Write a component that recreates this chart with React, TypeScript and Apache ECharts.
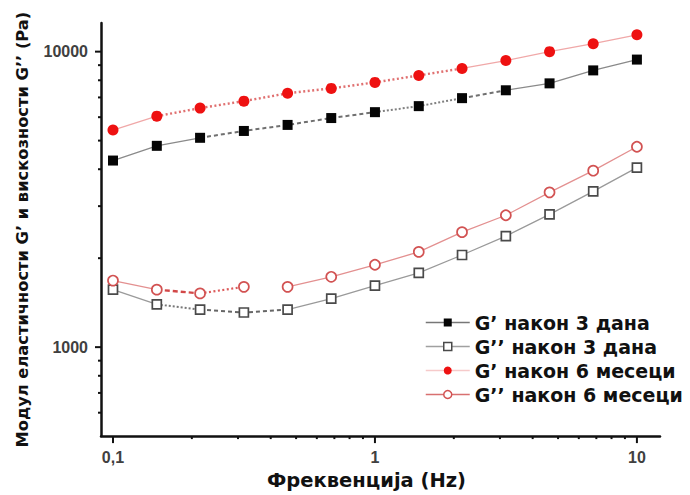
import React, { useEffect, useRef } from "react";
import * as echarts from "echarts";

// Frequency sweep points (Hz), five per decade
const freqHz = [0.1, 0.147, 0.215, 0.316, 0.464, 0.681, 1, 1.47, 2.15, 3.16, 4.64, 6.81, 10];

// Storage modulus G' and loss modulus G'' (Pa)
const gPrime3d = [4280, 4800, 5110, 5390, 5650, 5960, 6240, 6540, 6960, 7400, 7810, 8640, 9400];
const gDouble3d = [1565, 1395, 1340, 1310, 1340, 1460, 1615, 1785, 2050, 2375, 2815, 3365, 4050];
const gPrime6m = [5430, 6050, 6440, 6800, 7230, 7510, 7870, 8310, 8770, 9330, 10000, 10640, 11400];
const gDouble6m = [1680, 1565, 1520, 1600, 1600, 1730, 1900, 2100, 2450, 2795, 3340, 3955, 4765];

const seriesNames = [
  "G’ након 3 дана",
  "G’’ након 3 дана",
  "G’ након 6 месеци",
  "G’’ након 6 месеци",
];

// Connector style of each segment between neighbouring points:
// s = solid, d = dashed, o = dotted, "" = not connected
const segPrime3d = ["s", "s", "d", "d", "d", "d", "o", "o", "d", "s", "s", "s"];
const segDouble3d = ["s", "o", "d", "d", "s", "s", "s", "s", "s", "s", "s", "s"];
const segPrime6m = ["s", "o", "o", "o", "o", "o", "o", "o", "s", "s", "s", "s"];
const segDouble6m = ["s", "d", "o", "", "s", "s", "s", "s", "s", "s", "s", "s"];

// Axis ranges and tick values
const xRange = [0.09, 12.25];
const yRange = [500, 12500];
const xMajorTicks = [0.1, 1, 10];
const xMinorTicks = [0.2, 0.3, 0.4, 0.5, 0.6, 0.7, 0.8, 0.9, 2, 3, 4, 5, 6, 7, 8, 9];
const yMajorTicks = [1000, 10000];
const yMinorTicks = [600, 700, 800, 900, 2000, 3000, 4000, 5000, 6000, 7000, 8000, 9000];

const FONT = "'Liberation Sans', Arial, Helvetica, sans-serif";
const WIDE_FONT = "'DejaVu Sans', Verdana, sans-serif";

type SegStyle = { color: string; width: number; dash: number[] | "solid" };

function pairs(ys: number[]) {
  return freqHz.map((x, i) => [x, ys[i]]);
}

// Split a curve into runs of equally styled segments, one line series each
function segmentSeries(ys: number[], segs: string[], styles: Record<string, SegStyle>) {
  const out: any[] = [];
  let i = 0;
  while (i < segs.length) {
    const kind = segs[i];
    let j = i;
    while (j + 1 < segs.length && segs[j + 1] === kind) j++;
    if (kind && styles[kind]) {
      const st = styles[kind];
      const data = [];
      for (let k = i; k <= j + 1; k++) data.push([freqHz[k], ys[k]]);
      out.push({
        type: "line",
        data,
        silent: true,
        symbol: "none",
        z: 2,
        lineStyle: { color: st.color, width: st.width, type: st.dash },
        emphasis: { disabled: true },
      });
    }
    i = j + 1;
  }
  return out;
}

export default function App() {
  const ref = useRef<HTMLDivElement>(null);

  useEffect(() => {
    if (!ref.current) return;
    const chart = echarts.init(ref.current, null, { renderer: "svg" });

    const tickData: number[][] = [
      ...yMajorTicks.map((v) => [xRange[0], v, 6, 0]),
      ...yMinorTicks.map((v) => [xRange[0], v, 3, 0]),
      ...xMajorTicks.map((v) => [v, yRange[0], 7, 1]),
      ...xMinorTicks.map((v) => [v, yRange[0], 3, 1]),
    ];

    const isDecade = (v: number) => Math.abs(Math.log10(v) - Math.round(Math.log10(v))) < 1e-6;

    const mainSeries = [
      {
        name: seriesNames[0],
        data: pairs(gPrime3d),
        symbol: "rect",
        symbolSize: 10,
        itemStyle: { color: "#050505" },
      },
      {
        name: seriesNames[1],
        data: pairs(gDouble3d),
        symbol: "rect",
        symbolSize: 9,
        itemStyle: { color: "#ffffff", borderColor: "#4a4a4a", borderWidth: 1.7 },
      },
      {
        name: seriesNames[2],
        data: pairs(gPrime6m),
        symbol: "circle",
        symbolSize: 11,
        itemStyle: { color: "#ee1111" },
      },
      {
        name: seriesNames[3],
        data: pairs(gDouble6m),
        symbol: "circle",
        symbolSize: 10,
        itemStyle: { color: "#ffffff", borderColor: "#d25252", borderWidth: 1.7 },
      },
    ].map((s) => ({
      ...s,
      type: "line",
      z: 5,
      showSymbol: true,
      lineStyle: { opacity: 0, width: 0 },
      emphasis: { disabled: true },
    }));

    const connectors = [
      ...segmentSeries(gPrime3d, segPrime3d, {
        s: { color: "#8a8a8a", width: 1.3, dash: "solid" },
        d: { color: "#707070", width: 2, dash: [4, 3] },
        o: { color: "#808080", width: 2, dash: [2, 2] },
      }),
      ...segmentSeries(gDouble3d, segDouble3d, {
        s: { color: "#9a9a9a", width: 1.3, dash: "solid" },
        d: { color: "#666666", width: 2, dash: [4, 3] },
        o: { color: "#777777", width: 2, dash: [2, 2] },
      }),
      ...segmentSeries(gPrime6m, segPrime6m, {
        s: { color: "#f0a8a8", width: 1.3, dash: "solid" },
        o: { color: "#e07070", width: 2.4, dash: [2, 2.5] },
      }),
      ...segmentSeries(gDouble6m, segDouble6m, {
        s: { color: "#e39090", width: 1.3, dash: "solid" },
        d: { color: "#d24848", width: 2.4, dash: [5, 3] },
        o: { color: "#dc5a5a", width: 2.2, dash: [2, 2.5] },
      }),
    ];

    const legendLines = ["#777777", "#a0a0a0", "#f6caca", "#d87070"];
    const legendMarks = [
      { color: "#050505" },
      { color: "#ffffff", borderColor: "#4a4a4a", borderWidth: 1.5 },
      { color: "#ee1111" },
      { color: "#ffffff", borderColor: "#d25252", borderWidth: 1.5 },
    ];

    chart.setOption({
      animation: false,
      backgroundColor: "#ffffff",
      grid: { left: 101, right: 30, top: 23, bottom: 56, containLabel: false },
      legend: {
        orient: "vertical",
        left: 420,
        top: 308,
        itemWidth: 44,
        itemHeight: 10,
        itemGap: 5,
        align: "left",
        selectedMode: false,
        data: seriesNames.map((n, i) => ({
          name: n,
          itemStyle: legendMarks[i],
          lineStyle: { color: legendLines[i], width: 1.5, opacity: 1, type: "solid" },
        })),
        textStyle: { fontFamily: WIDE_FONT, fontSize: 19, fontWeight: "bold", color: "#111111" },
      },
      xAxis: {
        type: "log",
        logBase: 10,
        min: xRange[0],
        max: xRange[1],
        name: "Фреквенција (Hz)",
        nameLocation: "middle",
        nameGap: 32,
        nameTextStyle: {
          fontFamily: WIDE_FONT,
          fontSize: 19.5,
          fontWeight: "bold",
          color: "#111111",
          padding: [0, 28, 0, 0],
        },
        axisLine: { show: true, lineStyle: { color: "#111111", width: 2.5 } },
        axisTick: { show: false },
        splitLine: { show: false },
        axisLabel: {
          margin: 13,
          fontFamily: FONT,
          fontSize: 16,
          fontWeight: "bold",
          color: "#404040",
          showMinLabel: false,
          showMaxLabel: false,
          formatter: (v: number) => (isDecade(v) ? String(v).replace(".", ",") : ""),
        },
      },
      yAxis: {
        type: "log",
        logBase: 10,
        min: yRange[0],
        max: yRange[1],
        name: "Модул еластичности G’ и вискозности G’’ (Pa)",
        nameLocation: "middle",
        nameGap: 71,
        nameTextStyle: { fontFamily: WIDE_FONT, fontSize: 16.3, fontWeight: "bold", color: "#111111" },
        axisLine: { show: true, lineStyle: { color: "#111111", width: 2.5 } },
        axisTick: { show: false },
        splitLine: { show: false },
        axisLabel: {
          margin: 13,
          fontFamily: FONT,
          fontSize: 16,
          fontWeight: "bold",
          color: "#404040",
          showMinLabel: false,
          showMaxLabel: false,
          formatter: (v: number) => (isDecade(v) ? String(Math.round(v)) : ""),
        },
      },
      series: [
        ...connectors,
        ...mainSeries,
        {
          type: "custom",
          silent: true,
          z: 3,
          clip: false,
          data: tickData,
          renderItem: (_p: any, api: any) => {
            const p = api.coord([api.value(0), api.value(1)]);
            const len = api.value(2);
            const vertical = api.value(3) === 1;
            return {
              type: "line",
              shape: vertical
                ? { x1: p[0], y1: p[1], x2: p[0], y2: p[1] + len }
                : { x1: p[0] - len, y1: p[1], x2: p[0], y2: p[1] },
              style: { stroke: "#111111", lineWidth: 2 },
            };
          },
        },
      ],
    });

    return () => chart.dispose();
  }, []);

  return (
    <div
      ref={ref}
      style={{ position: "fixed", left: 0, top: 0, width: 690, height: 495, background: "#fff" }}
    />
  );
}
